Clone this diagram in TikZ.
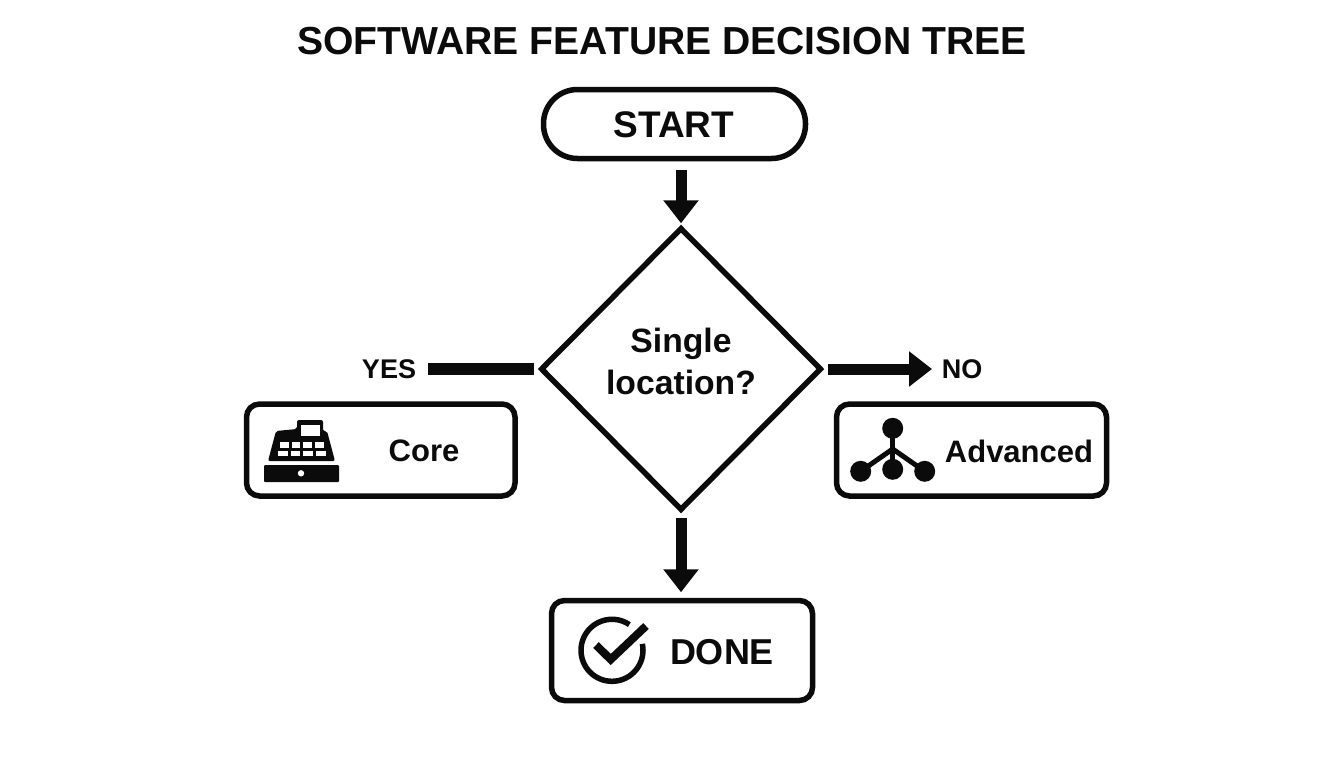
\documentclass[tikz,border=0pt]{standalone}
\usepackage{fontspec}
\setmainfont{Liberation Sans}
\usetikzlibrary{arrows.meta,shapes.geometric}
\definecolor{ink}{HTML}{0B0B0B}
\newcommand{\fs}[1]{\fontsize{#1}{#1}\selectfont\bfseries}
\tikzset{
  boxnode/.style={draw=ink,line width=5.5pt,rounded corners=13pt,fill=white,inner sep=0pt},
  flow/.style={draw=ink,line width=11pt,-{Triangle[length=23pt,width=34pt]}},
  plainflow/.style={draw=ink,line width=12pt},
  lab/.style={text=ink,inner sep=0pt,anchor=center},
  icon/.style={fill=ink,draw=none},
  hole/.style={fill=white,draw=none}
}
\begin{document}
\begin{tikzpicture}[x=1pt,y=-1pt]
\useasboundingbox (0,0) rectangle (1344,768);
\fill[white] (0,0) rectangle (1344,768);

\node[lab] (title) at (662,41) {\fs{39.1}SOFTWARE FEATURE DECISION TREE};

\node[boxnode,rounded corners=34pt,minimum width=262pt,minimum height=69pt] (start) at (674.5,124) {};
\node[lab] (starttext) at (674,125) {\fs{37}START};

\node[diamond,aspect=1,draw=ink,line width=5.5pt,fill=white,inner sep=0pt,minimum width=281pt,minimum height=283pt] (decision) at (681,369) {};
\node[lab] (q1) at (681,344) {\fs{33.7}Single};
\node[lab] (q2) at (681,382.5) {\fs{33.7}location?};

\node[lab] (yes) at (389,369) {\fs{27}YES};
\node[lab] (no) at (962,369) {\fs{27}NO};
\coordinate (yesend) at (428,369);
\coordinate (noend) at (932,369);

\node[boxnode,minimum width=268.5pt,minimum height=92pt] (core) at (380.75,450) {};
\node[lab] (coretext) at (424,451) {\fs{31}Core};
\node[boxnode,minimum width=270pt,minimum height=92pt] (advanced) at (971.5,450) {};
\node[lab] (advtext) at (1019,451) {\fs{31}Advanced};
\node[boxnode,minimum width=261pt,minimum height=100pt] (done) at (682,650.5) {};
\node[lab] (donetext) at (722,652) {\fs{36}DONE};

% connectors
\draw[flow,shorten >=1.5pt] (decision.north |- 0,170) -- (decision.north);
\draw[plainflow,shorten <=4pt] (decision.west) -- (yesend);
\draw[flow,shorten <=4pt] (decision.east) -- (noend);
\draw[flow,shorten <=5pt,shorten >=5.5pt] (decision.south) -- (decision.south |- done.north);

% cash register
\fill[icon,rounded corners=1pt] (264,465) rectangle (339,482);
\fill[hole] (301,473.3) circle (3.2);
\fill[icon,rounded corners=2pt] (268,461) -- (276,431) -- (297,429) -- (297,420) -- (323,420) -- (323,431) -- (327,431) -- (335,461) -- cycle;
\fill[hole] (301,425) rectangle (320,436);
\foreach \a/\b in {280/289,291.5/300,303/312,315/324}{\fill[hole] (\a,442) rectangle (\b,447.5);}
\foreach \a/\b in {278/288,291/300,303/312.5,316/325.5}{\fill[hole] (\a,450.5) rectangle (\b,456);}

% network icon
\draw[ink,line width=5pt] (892.7,428.3) -- (892.7,469.3);
\draw[ink,line width=5pt] (860.7,471.3) -- (892.7,449) -- (924.7,471.3);
\foreach \p in {(892.7,428.3),(892.7,469.3),(860.7,471.3),(924.7,471.3)}{\fill[icon] \p circle (10.5);}

% check icon
\draw[ink,line width=5.5pt] (612,650.3) ++(-56:31) arc[start angle=-56,end angle=-372,radius=31];
\draw[ink,line width=8pt] (596,645) -- (610.7,659.5) -- (646,626);
\end{tikzpicture}
\end{document}
